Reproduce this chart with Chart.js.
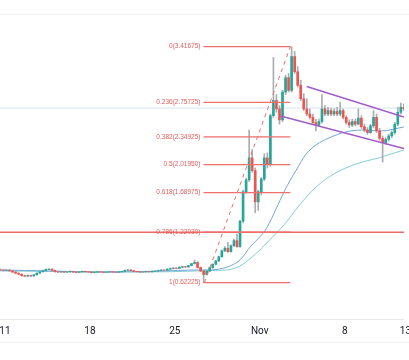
<!DOCTYPE html>
<html>
<head>
<meta charset="utf-8">
<script src="https://cdn.jsdelivr.net/npm/chart.js@4.4.1/dist/chart.umd.min.js"></script>
<style>
  html, body { margin: 0; padding: 0; background: #fff; }
</style>
</head>
<body>
<canvas id="chart" width="409" height="360"></canvas>
<script>
// 6h candles, time in days since Sep 30 (Oct 11 = 11, Nov 1 = 32)
const firstCandleDay = 10.625;
const candleStep = 0.25;

const open = [
  0.775, 0.772, 0.768, 0.770, 0.762, 0.748, 0.735, 0.722, 0.705, 0.700,
  0.708, 0.702, 0.715, 0.735, 0.752, 0.765, 0.778, 0.782, 0.768, 0.752,
  0.748, 0.752, 0.746, 0.750, 0.755, 0.748, 0.744, 0.750, 0.756, 0.752,
  0.748, 0.742, 0.746, 0.752, 0.748, 0.744, 0.748, 0.752, 0.748, 0.745,
  0.750, 0.755, 0.768, 0.772, 0.764, 0.755, 0.752, 0.748, 0.750, 0.755,
  0.752, 0.756, 0.760, 0.766, 0.772, 0.770, 0.782, 0.790, 0.795, 0.792,
  0.805, 0.812, 0.808, 0.825, 0.848, 0.862, 0.802, 0.760, 0.718, 0.760,
  0.800, 0.840, 0.880, 0.930, 1.000, 1.030, 0.990, 1.060, 1.120, 1.050,
  1.350, 1.700, 1.840, 2.100, 1.950, 1.580, 1.700, 1.850, 2.100, 2.020,
  2.600, 2.780, 2.680, 2.550, 2.880, 3.050, 2.900, 3.300, 3.120, 2.960,
  2.800, 2.680, 2.620, 2.580, 2.520, 2.490, 2.530, 2.680, 2.620, 2.660,
  2.620, 2.650, 2.620, 2.660, 2.580, 2.520, 2.490, 2.530, 2.500, 2.570,
  2.470, 2.430, 2.400, 2.480, 2.580, 2.420, 2.330, 2.280, 2.320, 2.360,
  2.400, 2.500, 2.640, 2.700, 2.680
];
const high = [
  0.782, 0.778, 0.776, 0.774, 0.766, 0.752, 0.740, 0.728, 0.712, 0.715,
  0.712, 0.720, 0.740, 0.758, 0.770, 0.785, 0.790, 0.786, 0.772, 0.758,
  0.758, 0.756, 0.756, 0.762, 0.758, 0.752, 0.756, 0.762, 0.760, 0.756,
  0.752, 0.752, 0.758, 0.756, 0.752, 0.754, 0.758, 0.756, 0.752, 0.756,
  0.760, 0.774, 0.780, 0.776, 0.768, 0.760, 0.756, 0.756, 0.760, 0.758,
  0.762, 0.766, 0.772, 0.778, 0.776, 0.788, 0.796, 0.800, 0.800, 0.810,
  0.818, 0.816, 0.830, 0.852, 0.890, 0.868, 0.808, 0.766, 0.768, 0.808,
  0.846, 0.888, 0.936, 1.010, 1.050, 1.100, 1.070, 1.140, 1.200, 1.360,
  1.720, 1.860, 2.430, 2.200, 1.980, 1.720, 1.870, 2.150, 2.160, 2.620,
  3.290, 2.850, 2.720, 2.900, 3.080, 3.100, 3.41675, 3.360, 3.180, 3.020,
  2.860, 2.800, 2.680, 2.620, 2.560, 2.560, 2.850, 2.720, 2.700, 2.690,
  2.680, 2.700, 2.760, 2.680, 2.600, 2.550, 2.560, 2.560, 2.680, 2.600,
  2.500, 2.460, 2.500, 2.660, 2.620, 2.450, 2.360, 2.340, 2.380, 2.420,
  2.520, 2.700, 2.750, 2.740, 2.720
];
const low = [
  0.766, 0.762, 0.763, 0.758, 0.742, 0.730, 0.716, 0.698, 0.692, 0.696,
  0.694, 0.698, 0.710, 0.730, 0.748, 0.760, 0.772, 0.762, 0.748, 0.742,
  0.744, 0.740, 0.742, 0.746, 0.742, 0.738, 0.740, 0.746, 0.746, 0.742,
  0.736, 0.738, 0.742, 0.742, 0.738, 0.740, 0.744, 0.742, 0.740, 0.742,
  0.746, 0.752, 0.764, 0.760, 0.750, 0.746, 0.742, 0.744, 0.746, 0.748,
  0.748, 0.752, 0.756, 0.762, 0.764, 0.766, 0.778, 0.784, 0.786, 0.788,
  0.800, 0.802, 0.804, 0.820, 0.842, 0.796, 0.752, 0.62225, 0.712, 0.752,
  0.792, 0.832, 0.872, 0.922, 0.990, 0.980, 0.982, 1.050, 1.040, 1.040,
  1.330, 1.680, 1.820, 1.930, 1.450, 1.480, 1.660, 1.830, 1.980, 2.000,
  2.580, 2.640, 2.500, 2.530, 2.850, 2.880, 2.880, 3.100, 2.940, 2.780,
  2.660, 2.600, 2.560, 2.500, 2.420, 2.470, 2.510, 2.600, 2.600, 2.600,
  2.600, 2.600, 2.600, 2.560, 2.500, 2.460, 2.470, 2.480, 2.490, 2.450,
  2.410, 2.380, 2.390, 2.460, 2.400, 2.310, 2.050, 2.260, 2.300, 2.340,
  2.380, 2.480, 2.620, 2.660, 2.670
];
const close = [
  0.772, 0.768, 0.770, 0.762, 0.748, 0.735, 0.722, 0.705, 0.700, 0.708,
  0.702, 0.715, 0.735, 0.752, 0.765, 0.778, 0.782, 0.768, 0.752, 0.748,
  0.752, 0.746, 0.750, 0.755, 0.748, 0.744, 0.750, 0.756, 0.752, 0.748,
  0.742, 0.746, 0.752, 0.748, 0.744, 0.748, 0.752, 0.748, 0.745, 0.750,
  0.755, 0.768, 0.772, 0.764, 0.755, 0.752, 0.748, 0.750, 0.755, 0.752,
  0.756, 0.760, 0.766, 0.772, 0.770, 0.782, 0.790, 0.795, 0.792, 0.805,
  0.812, 0.808, 0.825, 0.848, 0.862, 0.802, 0.760, 0.718, 0.760, 0.800,
  0.840, 0.880, 0.930, 1.000, 1.030, 0.990, 1.060, 1.120, 1.050, 1.350,
  1.700, 1.840, 2.100, 1.950, 1.580, 1.700, 1.850, 2.100, 2.020, 2.600,
  2.780, 2.680, 2.550, 2.880, 3.050, 2.900, 3.300, 3.120, 2.960, 2.800,
  2.680, 2.620, 2.580, 2.520, 2.490, 2.530, 2.680, 2.620, 2.660, 2.620,
  2.650, 2.620, 2.660, 2.580, 2.520, 2.490, 2.530, 2.500, 2.570, 2.470,
  2.430, 2.400, 2.480, 2.580, 2.420, 2.330, 2.280, 2.320, 2.360, 2.400,
  2.500, 2.640, 2.700, 2.680, 2.700
];

// moving averages
const ma1Days = [10.59, 12.63, 14.66, 18.73, 22.80, 25.24, 26.87, 27.85, 29.31, 30.37, 31.27, 31.92, 32.57, 33.38, 33.95, 34.52, 35.01, 35.82, 36.64, 37.70, 39.08, 40.46, 41.93, 43.88];
const ma1 = [0.773, 0.767, 0.761, 0.749, 0.755, 0.767, 0.773, 0.773, 0.808, 0.891, 1.057, 1.151, 1.270, 1.507, 1.684, 1.838, 1.957, 2.146, 2.253, 2.336, 2.407, 2.430, 2.418, 2.466];
const ma2Days = [10.59, 14.66, 18.73, 22.80, 26.87, 27.85, 29.31, 30.37, 31.27, 31.92, 32.57, 33.14, 34.20, 35.01, 36.39, 37.70, 39.08, 40.46, 41.77, 43.88];
const ma2 = [0.761, 0.755, 0.749, 0.749, 0.761, 0.767, 0.773, 0.820, 0.915, 0.997, 1.092, 1.175, 1.341, 1.495, 1.720, 1.874, 1.980, 2.051, 2.099, 2.194];

// fibonacci retracement
const fibRatios = ['0', '0.236', '0.382', '0.5', '0.618', '0.786', '1'];
const fibPrices = [3.41675, 2.75725, 2.34925, 2.01950, 1.68975, 1.22030, 0.62225];
const fibFromDay = 27.36;
const fibToDay = 34.52;
const fibTrendDays = [27.44, 34.52];
const fibTrendPrices = [0.62225, 3.41675];

// descending channel
const channelTopDays = [35.87, 43.88];
const channelTopPrices = [2.945, 2.584];
const channelBottomDays = [33.71, 43.88];
const channelBottomPrices = [2.596, 2.211];

const supportLevel = 1.2203;
const lastPrice = 2.69;

const tickDays = [11, 18, 25, 32, 39, 44];
const tickLabels = ['11', '18', '25', 'Nov', '8', '13'];

const xMin = 10.593, xMax = 43.88;
const yMin = 0.192, yMax = 3.804;

const upColor = '#26a69a';
const downColor = '#ef5350';
const fibColor = '#ef6f6c';

const candleDays = open.map((_, i) => firstCandleDay + i * candleStep);
const isUp = (i) => close[i] >= open[i];

const pts = (xs, ys) => xs.map((x, i) => ({ x: x, y: ys[i] }));
const flatLine = (x0, x1, y, color, width, order) => ({
  type: 'line',
  data: [{ x: x0, y: y }, { x: x1, y: y }],
  borderColor: color,
  borderWidth: width,
  pointRadius: 0,
  order: order
});

const datasets = [
  {
    type: 'bar',
    label: 'wick',
    data: candleDays.map((d, i) => ({ x: d, y: [low[i], high[i]] })),
    backgroundColor: '#a9acb2',
    barThickness: 1,
    grouped: false,
    order: 6
  },
  {
    type: 'bar',
    label: 'body',
    data: candleDays.map((d, i) => ({ x: d, y: [open[i], close[i]] })),
    backgroundColor: candleDays.map((_, i) => isUp(i) ? upColor : downColor),
    barThickness: 2,
    grouped: false,
    order: 5
  },
  {
    type: 'line',
    data: pts(ma1Days, ma1),
    borderColor: '#74a7da',
    borderWidth: 1,
    pointRadius: 0,
    cubicInterpolationMode: 'monotone',
    order: 7
  },
  {
    type: 'line',
    data: pts(ma2Days, ma2),
    borderColor: '#86cfd8',
    borderWidth: 1,
    pointRadius: 0,
    cubicInterpolationMode: 'monotone',
    order: 7
  },
  flatLine(xMin, xMax, lastPrice, '#d3e5ef', 1, 8),
  flatLine(xMin, xMax, supportLevel, '#ec6a67', 1.5, 3),
  {
    type: 'line',
    data: pts(fibTrendDays, fibTrendPrices),
    borderColor: fibColor,
    borderWidth: 1,
    borderDash: [4, 4],
    pointRadius: 0,
    order: 2
  },
  {
    type: 'line',
    data: pts(channelTopDays, channelTopPrices),
    borderColor: '#a05cc8',
    borderWidth: 1.5,
    pointRadius: 0,
    order: 1
  },
  {
    type: 'line',
    data: pts(channelBottomDays, channelBottomPrices),
    borderColor: '#a05cc8',
    borderWidth: 1.5,
    pointRadius: 0,
    order: 1
  }
].concat(fibPrices.map(p => flatLine(fibFromDay, fibToDay, p, fibColor, 1.3, 2)));

// fib level captions, left of the level lines
const fibLabels = {
  id: 'fibLabels',
  afterDatasetsDraw(chart) {
    const { ctx, scales: { x, y } } = chart;
    ctx.save();
    ctx.font = '6.5px "Liberation Sans", Arial, sans-serif';
    ctx.fillStyle = '#e5605d';
    ctx.textAlign = 'right';
    ctx.textBaseline = 'middle';
    fibPrices.forEach((p, i) => {
      ctx.fillText(fibRatios[i] + '(' + p.toFixed(5) + ')', x.getPixelForValue(fibFromDay) - 3, y.getPixelForValue(p));
    });
    ctx.restore();
  }
};

// pane borders
const frame = {
  id: 'frame',
  beforeDraw(chart) {
    const { ctx, chartArea, width, height } = chart;
    ctx.save();
    ctx.fillStyle = '#fff';
    ctx.fillRect(0, 0, width, height);
    ctx.strokeStyle = '#eef0f3';
    ctx.lineWidth = 1;
    ctx.beginPath();
    ctx.moveTo(0, chartArea.top + 0.5);
    ctx.lineTo(width, chartArea.top + 0.5);
    ctx.moveTo(0, chart.scales.x.bottom + 0.5);
    ctx.lineTo(width, chart.scales.x.bottom + 0.5);
    ctx.stroke();
    ctx.restore();
  }
};

new Chart(document.getElementById('chart'), {
  type: 'bar',
  data: { datasets: datasets },
  options: {
    responsive: false,
    devicePixelRatio: 1,
    animation: false,
    layout: { autoPadding: false, padding: { top: 14, bottom: 18, left: 0, right: 0 } },
    plugins: { legend: { display: false }, tooltip: { enabled: false } },
    scales: {
      x: {
        type: 'linear',
        offset: false,
        min: xMin,
        max: xMax,
        grid: { display: false, offset: false },
        border: { display: true, color: '#e6e9ee' },
        afterBuildTicks: (scale) => { scale.ticks = tickDays.map(v => ({ value: v })); },
        afterFit: (scale) => { scale.height = 23; },
        ticks: {
          autoSkip: false,
          maxRotation: 0,
          padding: -2,
          color: '#131722',
          font: { family: 'Roboto, "Open Sans", sans-serif', size: 10 },
          callback: (v) => tickLabels[tickDays.indexOf(v)]
        }
      },
      y: {
        type: 'linear',
        display: false,
        min: yMin,
        max: yMax
      }
    }
  },
  plugins: [frame, fibLabels]
});
</script>
</body>
</html>
